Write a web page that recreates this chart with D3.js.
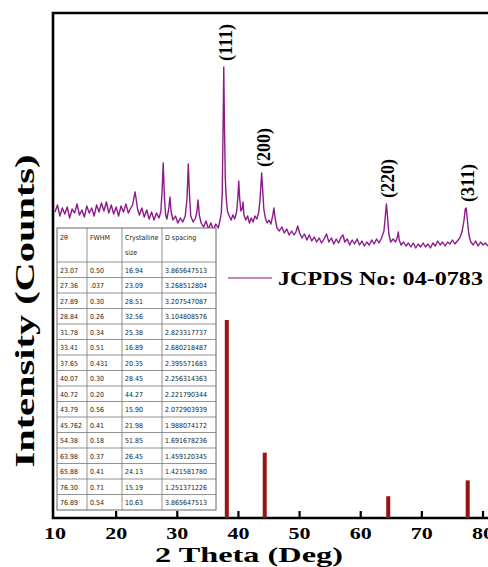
<!DOCTYPE html>
<html><head><meta charset="utf-8">
<script src="https://cdn.jsdelivr.net/npm/d3@7"></script>
<style>body{margin:0;background:#fff;overflow:hidden}</style>
</head><body>
<svg id="chart" width="488" height="567"></svg>
<script>
// XRD pattern: [2θ (deg), intensity (counts)]
const xrdPattern = [
[10.0,612],[10.4,626],[10.8,604],[11.2,620],[11.6,608],[12.0,622],[12.4,600],[12.8,618],[13.2,610],[13.6,628],
[14.0,606],[14.4,616],[14.8,602],[15.2,624],[15.6,610],[16.0,620],[16.4,604],[16.8,626],[17.2,612],[17.6,630],
[18.0,614],[18.4,632],[18.8,610],[19.2,626],[19.6,608],[20.0,622],[20.4,604],[20.8,624],[21.2,612],[21.6,628],
[22.0,610],[22.4,620],[22.7,626],[22.9,640],[23.1,652],[23.3,636],[23.5,618],[23.8,606],[24.2,620],[24.6,602],
[25.0,616],[25.4,598],[25.8,612],[26.2,596],[26.6,610],[27.0,600],[27.3,612],[27.5,650],[27.7,710],[27.9,640],
[28.1,606],[28.3,598],[28.6,618],[28.8,642],[29.0,612],[29.3,596],[29.7,604],[30.1,590],[30.5,600],[30.9,592],
[31.3,604],[31.6,640],[31.8,708],[32.0,646],[32.2,604],[32.6,592],[33.0,600],[33.2,612],[33.4,636],[33.6,606],
[33.9,590],[34.3,582],[34.7,594],[35.1,578],[35.5,590],[35.9,576],[36.3,588],[36.7,580],[37.0,596],[37.2,610],
[37.35,650],[37.5,790],[37.6,902],[37.7,800],[37.85,680],[38.0,640],[38.2,614],[38.5,604],[38.8,596],[39.1,606],
[39.4,598],[39.7,612],[39.9,640],[40.05,674],[40.2,640],[40.4,614],[40.6,618],[40.75,632],[40.9,606],[41.2,596],
[41.5,604],[41.8,590],[42.1,600],[42.4,592],[42.7,604],[43.0,598],[43.3,610],[43.5,632],[43.65,660],[43.8,690],
[43.95,660],[44.15,618],[44.4,600],[44.7,590],[45.0,596],[45.3,588],[45.6,604],[45.8,620],[46.0,600],[46.3,580],
[46.7,574],[47.1,582],[47.5,570],[47.9,578],[48.3,566],[48.7,574],[49.1,566],[49.4,572],[49.7,584],[50.0,570],
[50.4,560],[50.8,568],[51.2,556],[51.6,566],[52.0,554],[52.4,562],[52.8,552],[53.2,560],[53.6,550],[54.0,558],
[54.4,568],[54.8,552],[55.2,560],[55.6,548],[56.0,558],[56.4,550],[56.8,562],[57.1,566],[57.4,552],[57.8,558],
[58.2,546],[58.6,556],[59.0,548],[59.4,558],[59.8,546],[60.2,554],[60.6,544],[61.0,552],[61.4,546],[61.8,556],
[62.2,548],[62.6,558],[63.0,550],[63.4,560],[63.8,574],[64.0,600],[64.2,628],[64.4,600],[64.6,568],[64.9,552],
[65.3,558],[65.7,552],[66.0,562],[66.15,572],[66.3,556],[66.6,546],[67.0,552],[67.4,544],[67.8,550],[68.2,542],
[68.6,550],[69.0,540],[69.4,548],[69.8,542],[70.2,550],[70.6,542],[71.0,548],[71.4,540],[71.8,550],[72.2,544],
[72.6,554],[73.0,546],[73.4,552],[73.8,544],[74.2,552],[74.6,548],[75.0,556],[75.4,548],[75.8,554],[76.2,560],
[76.6,574],[76.9,596],[77.1,618],[77.25,620],[77.45,596],[77.7,566],[78.0,552],[78.4,546],[78.8,554],[79.2,544],
[79.6,552],[80.0,546],[80.4,550],[80.8,544]
];

// JCPDS 04-0783 reference lines
const refAngles = [38.1, 44.3, 64.5, 77.5];
const refIntensity = [100, 33, 11, 19];

// Peak labels
const peakLabels = ["(111)", "(200)", "(220)", "(311)"];
const peakAngles = [37.6, 43.8, 64.2, 77.2];
const peakCounts = [902, 690, 628, 620];

const xTicks = [10, 20, 30, 40, 50, 60, 70, 80];
const xTitle = "2 Theta (Deg)";
const yTitle = "Intensity (Counts)";
const legendText = "JCPDS No: 04-0783";

// Inset table
const tableHeader = ["2θ", "FWHM", "Crystalline\nsize", "D spacing"];
const table2Theta = ["23.07","27.36","27.89","28.84","31.78","33.41","37.65","40.07","40.72","43.79","45.762","54.38","63.98","65.88","76.30","76.89"];
const tableFWHM = ["0.50",".037","0.30","0.26","0.34","0.51","0.431","0.30","0.20","0.56","0.41","0.18","0.37","0.41","0.71","0.54"];
const tableSize = ["16.94","23.09","28.51","32.56","25.38","16.89","20.35","28.45","44.27","15.90","21.98","51.85","26.45","24.13","15.19","10.63"];
const tableDspacing = ["3.865647513","3.268512804","3.207547087","3.104808576","2.823317737","2.680218487","2.395571683","2.256314363","2.221790344","2.072903939","1.988074172","1.691678236","1.459120345","1.421581780","1.251371226","3.865647513"];

const svg = d3.select("#chart");
const x = d3.scaleLinear().domain([10, 80]).range([55, 483]);
const y = d3.scaleLinear().domain([0, 1008]).range([518, 14]);
const yRef = d3.scaleLinear().domain([0, 100]).range([518, 320]);

const serif = "'Liberation Serif','Times New Roman',serif";

// frame
svg.append("path")
  .attr("d", `M${x(82)},13 H53 V518 H${x(82)}`)
  .attr("fill", "none").attr("stroke", "#000").attr("stroke-width", 2.6);

// XRD line
svg.append("path").datum(xrdPattern)
  .attr("d", d3.line().x(d => x(d[0])).y(d => y(d[1])))
  .attr("fill", "none").attr("stroke", "#8c1a8c").attr("stroke-width", 1.4)
  .attr("stroke-linejoin", "round");

// reference bars
svg.selectAll("rect.ref").data(refAngles).join("rect").attr("class", "ref")
  .attr("x", d => x(d) - 2).attr("width", 4)
  .attr("y", (d, i) => yRef(refIntensity[i]))
  .attr("height", (d, i) => yRef(0) - yRef(refIntensity[i]))
  .attr("fill", "#981414");

// peak labels
svg.selectAll("text.peak").data(peakLabels).join("text").attr("class", "peak")
  .attr("transform", (d, i) => `translate(${x(peakAngles[i]) + 2},${y(peakCounts[i]) - 6}) rotate(-90)`)
  .attr("dominant-baseline", "central")
  .attr("font-family", serif).attr("font-weight", "bold").attr("font-size", 18)
  .text(d => d);

// x ticks
const ax = svg.append("g");
ax.selectAll("line").data(xTicks.slice(1)).join("line")
  .attr("x1", d => x(d)).attr("x2", d => x(d)).attr("y1", 517).attr("y2", 511)
  .attr("stroke", "#000").attr("stroke-width", 2.2);
ax.selectAll("text").data(xTicks).join("text")
  .attr("x", d => x(d)).attr("y", 539).attr("text-anchor", "middle")
  .attr("font-family", serif).attr("font-weight", "bold").attr("font-size", 17)
  .attr("textLength", 22).attr("lengthAdjust", "spacingAndGlyphs")
  .text(d => d);

// axis titles
svg.append("text").attr("x", 249).attr("y", 562).attr("text-anchor", "middle")
  .attr("font-family", serif).attr("font-weight", "bold").attr("font-size", 22)
  .attr("textLength", 188).attr("lengthAdjust", "spacingAndGlyphs").text(xTitle);
svg.append("text").attr("transform", "translate(34,311) rotate(-90)").attr("text-anchor", "middle")
  .attr("font-family", serif).attr("font-weight", "bold").attr("font-size", 28)
  .attr("textLength", 313).attr("lengthAdjust", "spacingAndGlyphs").text(yTitle);

// legend
svg.append("line").attr("x1", 228).attr("x2", 272).attr("y1", 278).attr("y2", 278)
  .attr("stroke", "#b05ab0").attr("stroke-width", 1.5);
svg.append("text").attr("x", 278).attr("y", 285)
  .attr("font-family", serif).attr("font-weight", "bold").attr("font-size", 19)
  .attr("textLength", 205).attr("lengthAdjust", "spacingAndGlyphs").text(legendText);

// table
const tg = svg.append("g");
const colX = [57, 87, 122, 162, 216];
const tTop = 228, headH = 34, rowH = 15.5;
const nRows = table2Theta.length;
const tBottom = tTop + headH + nRows * rowH;
tg.append("rect").attr("x", colX[0]).attr("y", tTop).attr("width", colX[4] - colX[0]).attr("height", tBottom - tTop)
  .attr("fill", "#fff").attr("stroke", "#666").attr("stroke-width", 1);
tg.selectAll("line.col").data(colX.slice(1, 4)).join("line").attr("class", "col")
  .attr("x1", d => d).attr("x2", d => d).attr("y1", tTop).attr("y2", tBottom)
  .attr("stroke", "#777").attr("stroke-width", 0.8);
tg.selectAll("line.row").data(d3.range(nRows)).join("line").attr("class", "row")
  .attr("x1", colX[0]).attr("x2", colX[4])
  .attr("y1", i => tTop + headH + i * rowH).attr("y2", i => tTop + headH + i * rowH)
  .attr("stroke", "#777").attr("stroke-width", 0.8);
const tfont = "'Liberation Sans Narrow','DejaVu Sans Condensed','Liberation Sans',sans-serif";
tableHeader.forEach((h, c) => {
  h.split("\n").forEach((ln, k) => {
    tg.append("text").attr("x", colX[c] + 3).attr("y", tTop + 12 + k * 15)
      .attr("font-family", tfont).attr("font-size", 7).attr("fill", "#222").text(ln);
  });
});
const cols = [table2Theta, tableFWHM, tableSize, tableDspacing];
cols.forEach((arr, c) => {
  tg.selectAll(null).data(arr).join("text")
    .attr("x", colX[c] + 3).attr("y", (d, i) => tTop + headH + i * rowH + 10.5)
    .attr("font-family", tfont).attr("font-size", 7).attr("fill", "#222")
    .text(d => d);
});
</script>
</body></html>
